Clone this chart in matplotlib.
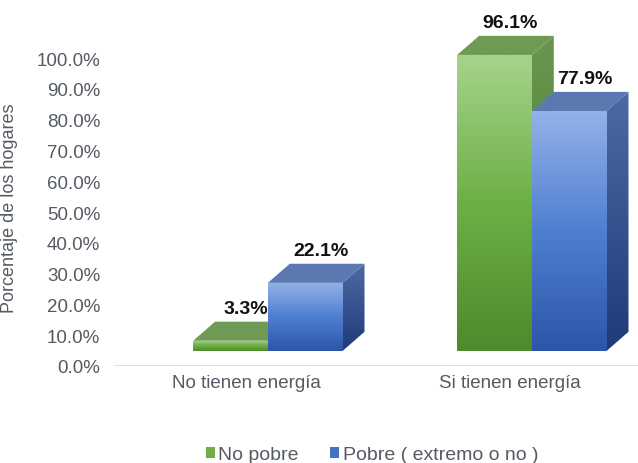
import matplotlib
matplotlib.use('Agg')
import matplotlib.pyplot as plt
import numpy as np
from matplotlib.patches import Polygon, Patch
from matplotlib.colors import LinearSegmentedColormap

# Data
categories = ['No tienen energía', 'Si tienen energía']
series_names = ['No pobre', 'Pobre ( extremo o no )']
no_pobre = [0.033, 0.961]
pobre = [0.221, 0.779]
ytick_values = [0.0, 0.1, 0.2, 0.3, 0.4, 0.5, 0.6, 0.7, 0.8, 0.9, 1.0]

# Face colours per series: front gradient (bottom -> top), top face, side gradient (bottom -> top)
styles = {
    'No pobre': {'front': ['#4d8a2c', '#6cb045', '#a6d38c'], 'top': '#6f9a55',
                 'side': ['#4a7a30', '#6a9650'], 'legend': '#70ad47'},
    'Pobre': {'front': ['#2d55a8', '#4f7fd0', '#93b2e8'], 'top': '#5b78b0',
              'side': ['#1f3a78', '#4d6aa6'], 'legend': '#4472c4'},
}

plt.rcParams['font.family'] = ['Liberation Sans', 'DejaVu Sans']
TEXT_GREY = '#555b63'

# 3D look
bar_w = 0.283
depth_x = 0.083
depth_y = 0.062
base = 0.049


def shade(ax, verts, colors, z):
    """Fill polygon with a vertical gradient"""
    poly = Polygon(verts, closed=True, facecolor='none', edgecolor='none', zorder=z)
    ax.add_patch(poly)
    xs = [v[0] for v in verts]
    ys = [v[1] for v in verts]
    cmap = LinearSegmentedColormap.from_list('grad', colors)
    grad = np.linspace(0, 1, 256).reshape(-1, 1)
    im = ax.imshow(grad, extent=(min(xs), max(xs), min(ys), max(ys)), origin='lower',
                   cmap=cmap, aspect='auto', zorder=z, interpolation='bilinear')
    im.set_clip_path(poly)


def draw_bar(ax, x0, value, st, z):
    x1 = x0 + bar_w
    top = base + value
    # side face
    shade(ax, [(x1, base), (x1 + depth_x, base + depth_y), (x1 + depth_x, top + depth_y), (x1, top)],
          st['side'], z)
    # top face
    ax.add_patch(Polygon([(x0, top), (x0 + depth_x, top + depth_y), (x1 + depth_x, top + depth_y), (x1, top)],
                         closed=True, facecolor=st['top'], edgecolor='none', zorder=z))
    # front face
    shade(ax, [(x0, base), (x1, base), (x1, top), (x0, top)], st['front'], z + 0.5)
    # value label
    ax.text(x0 + bar_w / 2 + 0.7 * depth_x, top + depth_y + 0.043, f'{value * 100:.1f}%',
            ha='center', va='center', fontsize=14, fontweight='bold', color='#111111', zorder=20)


fig = plt.figure(figsize=(6.38, 4.64), dpi=100)
ax = fig.add_axes([105 / 638, 97 / 464, 533 / 638, 366.5 / 464])

z = 2
for i in range(len(categories)):
    draw_bar(ax, i - bar_w, no_pobre[i], styles['No pobre'], z)
    z += 1
    draw_bar(ax, i, pobre[i], styles['Pobre'], z)
    z += 1

ax.set_xlim(-0.617, 1.402)
ax.set_ylim(0, 1.19)

# floor line
ax.axhline(0, xmin=0.019, xmax=1, color='#d9d9d9', linewidth=1.2, zorder=1)

for s in ax.spines.values():
    s.set_visible(False)

ax.set_xticks([i - depth_x for i in range(len(categories))])
ax.set_xticklabels(categories, fontsize=13.5, color=TEXT_GREY)
ax.set_yticks(ytick_values)
ax.set_yticklabels([f'{v * 100:.1f}%' for v in ytick_values], fontsize=13.5, color=TEXT_GREY)
ax.tick_params(axis='x', length=0, pad=6)
ax.tick_params(axis='y', length=0, pad=3.5)

ax.set_ylabel('Porcentaje de los hogares', fontsize=13, color=TEXT_GREY)
ax.yaxis.set_label_coords(-0.163, 0.434)

handles = [Patch(facecolor=styles['No pobre']['legend'], edgecolor='none'),
           Patch(facecolor=styles['Pobre']['legend'], edgecolor='none')]
fig.legend(handles, series_names, loc='center', bbox_to_anchor=(0.583, 1 - 456 / 464), ncol=2,
           frameon=False, handlelength=0.45, handleheight=0.45, handletextpad=0.2,
           columnspacing=1.6, fontsize=14, labelcolor=TEXT_GREY)

fig.savefig('out.png', dpi=100)
